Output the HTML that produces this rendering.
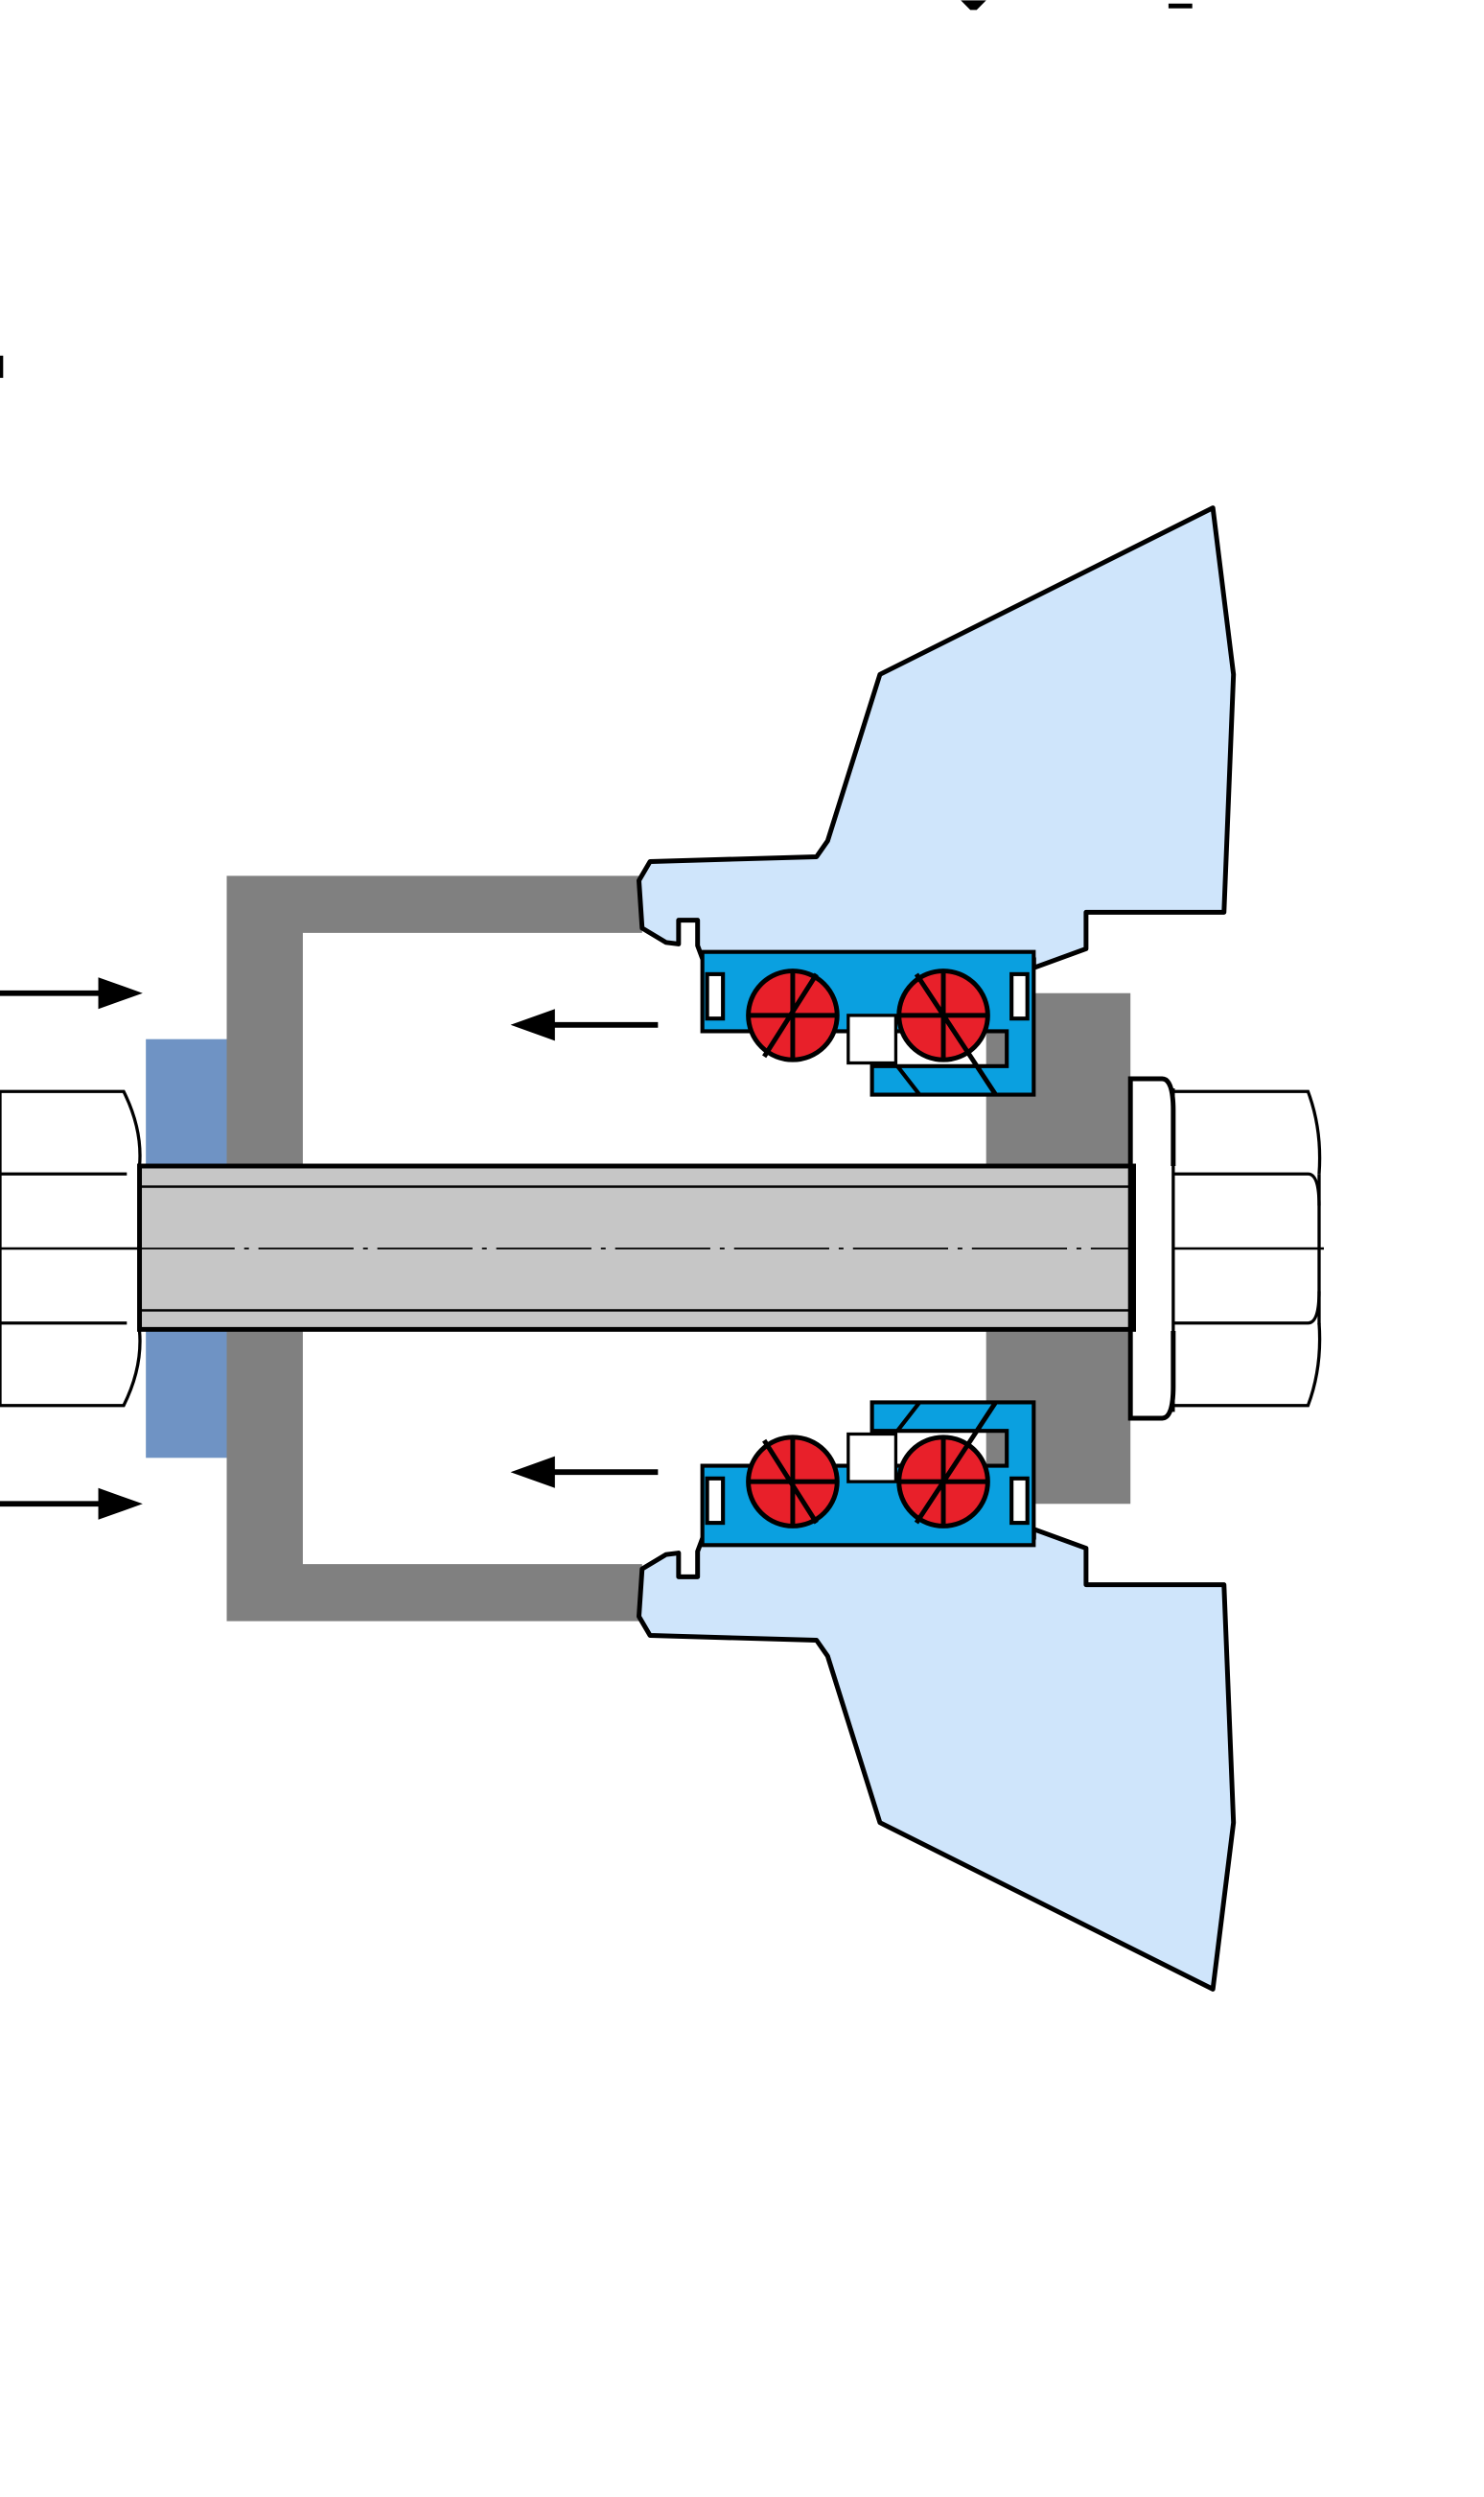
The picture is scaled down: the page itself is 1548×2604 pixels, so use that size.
<!DOCTYPE html>
<html><head><meta charset="utf-8"><style>
html,body{margin:0;padding:0;background:#fff;}
svg{display:block;}
</style></head><body>
<svg width="1548" height="2604" viewBox="0 0 936 1574" xmlns="http://www.w3.org/2000/svg">
<rect width="936" height="1574" fill="#fff"/>
<!-- top text fragments -->
<path d="M606 0 L622 0 L616 6 L612 6 Z" fill="#000"/>
<rect x="737" y="2" width="15" height="3" fill="#000"/>
<rect x="0" y="224" width="2" height="14" fill="#000"/>
<defs>
<g id="half">
  <!-- gray frame -->
  <path d="M143 552 H405 V588 H191 V735 H143 Z" fill="#808080"/>
  <!-- left washer -->
  <rect x="92" y="655" width="51" height="80" fill="#6f93c4"/>
  <!-- right gray block -->
  <rect x="622" y="626" width="91" height="109" fill="#808080"/>
  <!-- housing -->
  <path d="M410 543 L515 540 L522 530 L555 425 L765 320 L778 425 L772 575 L685 575 L685 598 L652 610 L652 604 L443 604 L440 596 L440 580 L428 580 L428 595 L420 594 L405 585 L403 555 Z" fill="#cfe5fb" stroke="#000" stroke-width="3" stroke-linejoin="round"/>
  <!-- bearing blue -->
  <path d="M443 600 H652 V690 H550 V672 H635 V650 H443 Z" fill="#0aa0e0" stroke="#000" stroke-width="2.5"/>
  <rect x="535" y="640" width="30" height="30" fill="#fff" stroke="#000" stroke-width="2"/>
  <path d="M566 672 L580 690" stroke="#000" stroke-width="2.5"/>
  <!-- seals -->
  <rect x="446" y="614" width="10" height="28" fill="#fff" stroke="#000" stroke-width="2.5"/>
  <rect x="638" y="614" width="10" height="28" fill="#fff" stroke="#000" stroke-width="2.5"/>
  <!-- balls -->
  <g stroke="#000" stroke-width="3">
    <circle cx="500" cy="640" r="28" fill="#e8202a"/>
    <line x1="500" y1="612" x2="500" y2="668"/><line x1="472" y1="640" x2="528" y2="640"/>
    <line x1="515" y1="614" x2="482" y2="666"/>
    <circle cx="595" cy="640" r="28" fill="#e8202a"/>
    <line x1="595" y1="612" x2="595" y2="668"/><line x1="567" y1="640" x2="623" y2="640"/>
    <line x1="578" y1="614" x2="628" y2="690"/>
  </g>
  <!-- left nut -->
  <path d="M0 688 H78 Q90 712 88 735 M88 735 V740 M0 740 H80" fill="none" stroke="#000" stroke-width="2"/>
  <!-- right washer -->
  <path d="M713 735 V680 H733 Q740 680 740 700 V735" fill="#fff" stroke="#000" stroke-width="3"/>
  <!-- right nut -->
  <path d="M740 688 H825 Q834 712 832 740 M740 740 H825 Q832 740 832 760" fill="none" stroke="#000" stroke-width="2"/>
  <!-- arrows -->
  <g stroke="#000" stroke-width="3.5">
    <line x1="0" y1="626" x2="70" y2="626"/>
    <line x1="415" y1="646" x2="340" y2="646"/>
  </g>
  <path d="M90 626 L62 616 L62 636 Z" fill="#000"/>
  <path d="M322 646 L350 636 L350 656 Z" fill="#000"/>
</g>
</defs>
<use href="#half"/>
<g transform="translate(0,1574) scale(1,-1)"><use href="#half"/></g>
<!-- nut side lines -->
<line x1="0" y1="688" x2="0" y2="886" stroke="#000" stroke-width="2"/>
<path d="M88 740 V835" stroke="#000" stroke-width="2"/>
<path d="M832 740 V835" stroke="#000" stroke-width="2"/>
<path d="M740 686 V890" stroke="#000" stroke-width="2"/>
<line x1="740" y1="787" x2="835" y2="787" stroke="#000" stroke-width="1.5"/>
<line x1="0" y1="787" x2="88" y2="787" stroke="#000" stroke-width="1.5"/>
<!-- shaft -->
<rect x="88" y="735" width="627" height="103" fill="#c6c6c6" stroke="#000" stroke-width="3"/>
<line x1="88" y1="748" x2="715" y2="748" stroke="#000" stroke-width="1.5"/>
<line x1="88" y1="826" x2="715" y2="826" stroke="#000" stroke-width="1.5"/>
<line x1="88" y1="787" x2="715" y2="787" stroke="#000" stroke-width="1" stroke-dasharray="60 6 3 6"/>
<line x1="713" y1="735" x2="713" y2="838" stroke="#000" stroke-width="3"/>
</svg>
</body></html>
